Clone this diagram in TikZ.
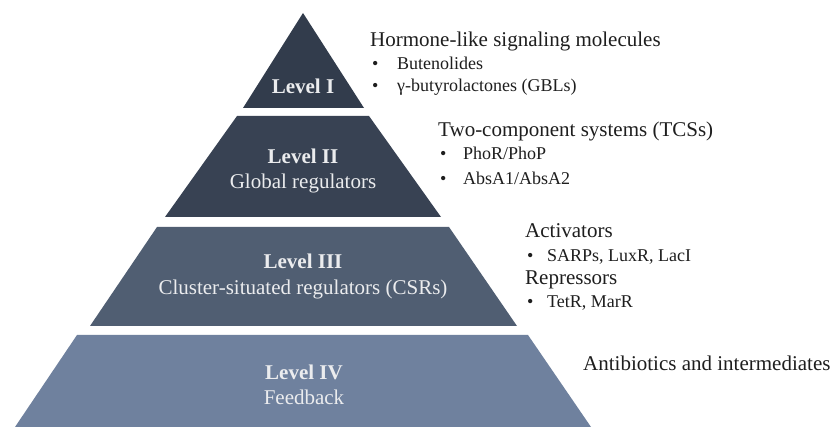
\documentclass[tikz,border=0pt]{standalone}
\usepackage{fontspec}
\setmainfont{Liberation Serif}[BoldFont={Liberation Serif Bold}]
\newfontfamily\tnr{Liberation Serif}[BoldFont={Liberation Serif Bold}]
\definecolor{lvA}{RGB}{50,60,76}
\definecolor{lvB}{RGB}{56,66,83}
\definecolor{lvC}{RGB}{80,94,114}
\definecolor{lvD}{RGB}{111,129,158}
\definecolor{txt}{RGB}{30,30,30}
\definecolor{lvtxt}{RGB}{235,236,238}
\tikzset{
  lvlbl/.style={anchor=base, text=lvtxt, inner sep=0pt, font=\tnr\fontsize{21}{25}\selectfont\bfseries},
  lvsub/.style={anchor=base, text=lvtxt, inner sep=0pt, font=\tnr\fontsize{21}{25}\selectfont},
  head/.style={anchor=base west, text=txt, inner sep=0pt, font=\tnr\fontsize{21}{25}\selectfont},
  item/.style={anchor=base west, text=txt, inner sep=0pt, font=\tnr\fontsize{18}{22}\selectfont},
}
\begin{document}
\begin{tikzpicture}[x=1pt,y=-1pt]
\useasboundingbox[fill=white] (0,0) rectangle (832,427);
% pyramid layers
\fill[lvA] (303,13) -- (364,108) -- (243,108) -- cycle;
\fill[lvB] (237,116) -- (369,116) -- (441,217) -- (165,217) -- cycle;
\fill[lvC] (157,227) -- (449,227) -- (517,326) -- (90,326) -- cycle;
\fill[lvD] (77,335) -- (528,335) -- (591,427) -- (15,427) -- cycle;
% level labels
\node[lvlbl] (l1) at (303,94) {Level I};
\node[lvlbl] (l2) at (303,164) {Level II};
\node[lvsub] (l2s) at (303,189) {Global regulators};
\node[lvlbl] (l3) at (303,269) {Level III};
\node[lvsub] (l3s) at (303,295) {Cluster-situated regulators (CSRs)};
\node[lvlbl] (l4) at (304,379) {Level IV};
\node[lvsub] (l4s) at (304,404) {Feedback};
% right-hand texts
\node[head] (h1) at (370,47) {Hormone-like signaling molecules};
\node[item] (b1a) at (372,70) {•};
\node[item] (t1a) at (397,70) {Butenolides};
\node[item] (b1b) at (372,92) {•};
\node[item] (t1b) at (397,92) {γ-butyrolactones (GBLs)};
\node[head] (h2) at (438,137) {Two-component systems (TCSs)};
\node[item] (b2a) at (440,160) {•};
\node[item] (t2a) at (463,160) {PhoR/PhoP};
\node[item] (b2b) at (440,185) {•};
\node[item] (t2b) at (463,185) {AbsA1/AbsA2};
\node[head] (h3) at (525,238) {Activators};
\node[item] (b3a) at (527,262) {•};
\node[item] (t3a) at (547,262) {SARPs, LuxR, LacI};
\node[head] (h3b) at (525,285) {Repressors};
\node[item] (b3b) at (527,308) {•};
\node[item] (t3b) at (547,308) {TetR, MarR};
\node[head] (h4) at (583,370) {Antibiotics and intermediates};
\end{tikzpicture}
\end{document}
